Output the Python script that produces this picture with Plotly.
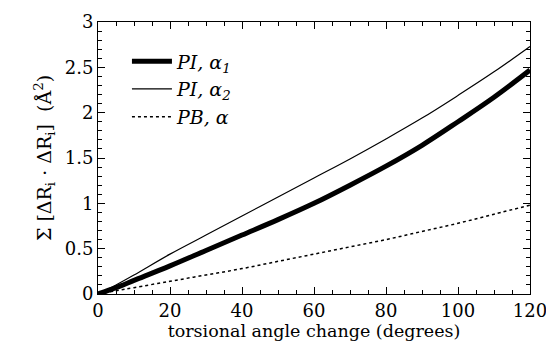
import plotly.graph_objects as go

angle = [0, 5, 10, 20, 30, 40, 50, 60, 70, 80, 90, 100, 110, 120]
pi_a1 = [0, 0.07, 0.15, 0.31, 0.48, 0.65, 0.82, 1.00, 1.20, 1.41, 1.64, 1.90, 2.17, 2.47]
pi_a2 = [0, 0.10, 0.21, 0.44, 0.65, 0.86, 1.07, 1.28, 1.49, 1.71, 1.94, 2.19, 2.45, 2.73]
pb_a = [0, 0.035, 0.07, 0.14, 0.21, 0.28, 0.36, 0.44, 0.52, 0.60, 0.69, 0.78, 0.88, 0.98]

xticks = [0, 20, 40, 60, 80, 100, 120]
yticks = [0, 0.5, 1, 1.5, 2, 2.5, 3]
ytick_text = ["0", "0.5", "1", "1.5", "2", "2.5", "3"]

FONT = "DejaVu Serif"

fig = go.Figure()
fig.add_trace(go.Scatter(x=angle, y=pi_a1, mode="lines", name="<i>PI, α<sub>1</sub></i>",
                         line=dict(color="black", width=5, shape="spline")))
fig.add_trace(go.Scatter(x=angle, y=pi_a2, mode="lines", name="<i>PI, α<sub>2</sub></i>",
                         line=dict(color="black", width=1.2, shape="spline")))
fig.add_trace(go.Scatter(x=angle, y=pb_a, mode="lines", name="<i>PB, α</i>",
                         line=dict(color="black", width=1.5, dash="dot", shape="spline")))

axis_common = dict(
    showline=True, linecolor="black", linewidth=1, mirror="ticks",
    ticks="inside", ticklen=7, tickcolor="black", tickwidth=1,
    showgrid=False, zeroline=False, automargin=False,
    tickfont=dict(family=FONT, size=18, color="black"),
)

fig.update_xaxes(range=[0, 120], tickvals=xticks, **axis_common,
                 ticklabeloverflow="allow",
                 minor=dict(dtick=5, ticks="inside", ticklen=4, tickcolor="black"),
                 title=dict(text="torsional angle change (degrees)",
                            font=dict(family=FONT, size=17.5, color="black"), standoff=0))
fig.update_yaxes(range=[0, 3], tickvals=yticks, ticktext=ytick_text, **axis_common,
                 minor=dict(dtick=0.1, ticks="inside", ticklen=4, tickcolor="black"),
                 title=dict(text="Σ [ΔR<sub>i</sub> · ΔR<sub>i</sub>]  (Å<sup>2</sup>)",
                            font=dict(family=FONT, size=19, color="black"), standoff=8))

fig.update_layout(
    width=546, height=346,
    margin=dict(l=98, r=16, t=22, b=52),
    plot_bgcolor="white", paper_bgcolor="white",
    showlegend=True,
    legend=dict(x=0.067, y=0.925, xanchor="left", yanchor="top",
                bgcolor="rgba(0,0,0,0)", font=dict(family=FONT, size=19, color="black"),
                tracegroupgap=0, itemwidth=40),
)

fig.write_html("out.html")
